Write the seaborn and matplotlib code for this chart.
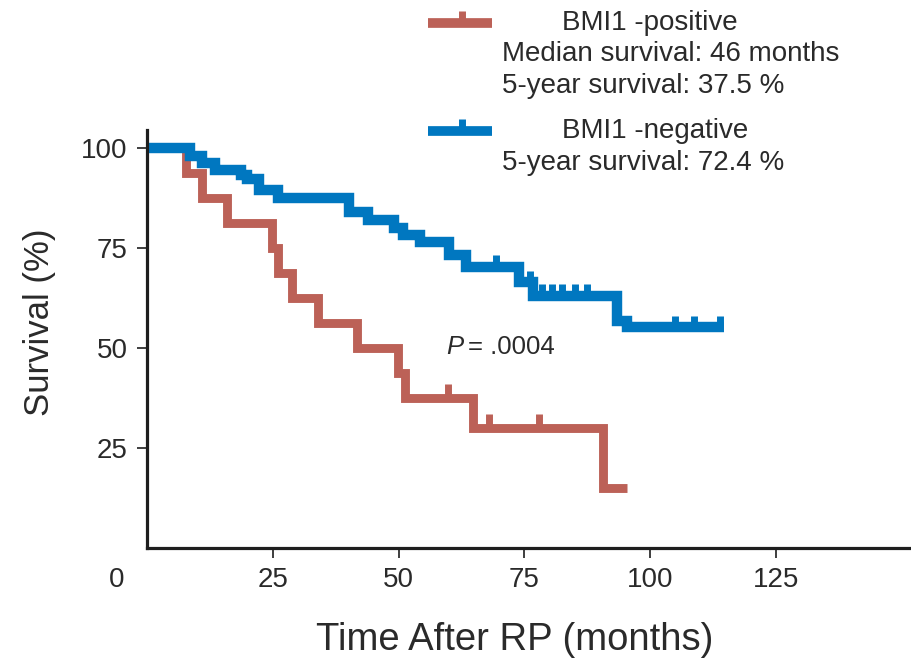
import numpy as np
import pandas as pd
import matplotlib
matplotlib.use("Agg")
import matplotlib.pyplot as plt
import matplotlib.transforms as mtransforms
from matplotlib.lines import Line2D
import seaborn as sns

# ---------------- data ----------------
red_time = [0, 7.8, 10.9, 15.9, 24.8, 26.0, 28.8, 33.9, 41.7, 49.9, 51.2, 64.8, 90.7, 95.4]
red_surv = [100, 93.75, 87.5, 81.25, 75.0, 68.75, 62.5, 56.25, 50.0, 43.75, 37.5, 30.0, 15.0, 15.0]
red_cens_time = [59.9, 68.0, 77.8]
red_cens_surv = [37.5, 30.0, 30.0]

blue_time = [0, 8.5, 10.9, 13.5, 18.6, 19.8, 22.2, 26.0, 40.2, 43.9, 49.0, 50.8, 54.2,
             60.0, 63.4, 74.0, 76.6, 93.3, 95.4, 114.7]
blue_surv = [100, 98.0, 96.2, 94.5, 93.2, 92.3, 89.6, 87.4, 84.0, 82.0, 80.0, 78.3, 76.6,
             73.3, 70.3, 66.4, 63.0, 56.8, 55.2, 55.2]
blue_cens_time = [69.4, 76.0, 78.5, 80.5, 82.5, 85.0, 87.5, 105.0, 108.7, 113.9]
blue_cens_surv = [70.3, 66.4, 63.0, 63.0, 63.0, 63.0, 63.0, 55.2, 55.2, 55.2]

x_ticks = [25, 50, 75, 100, 125]
y_ticks = [25, 50, 75, 100]

legend_pos = ["BMI1 -positive", "Median survival: 46 months", "5-year survival: 37.5 %"]
legend_neg = ["BMI1 -negative", "5-year survival: 72.4 %"]
p_text = ("P", "= .0004")

RED = "#BC6157"
BLUE = "#0077C0"
TXT = "#2a2a2a"

# ---------------- figure ----------------
sns.set_theme(style="white")
plt.rcParams["font.family"] = ["Liberation Sans", "DejaVu Sans"]

W, H = 911, 663
fig = plt.figure(figsize=(W / 100, H / 100), dpi=100)
fig.patch.set_facecolor("white")
ax = fig.add_axes([147 / W, 1 - 548 / H, 1 - 147 / W, 418 / H])
ax.set_facecolor("white")

red_df = pd.DataFrame({"t": red_time, "s": red_surv})
blue_df = pd.DataFrame({"t": blue_time, "s": blue_surv})

sns.lineplot(data=red_df, x="t", y="s", ax=ax, drawstyle="steps-post", color=RED,
             lw=6.4, estimator=None, sort=False, solid_joinstyle="miter",
             solid_capstyle="butt")
ax.vlines(red_cens_time, red_cens_surv, np.array(red_cens_surv) + 3.4, color=RED, lw=5)

sns.lineplot(data=blue_df, x="t", y="s", ax=ax, drawstyle="steps-post", color=BLUE,
             lw=7.5, estimator=None, sort=False, solid_joinstyle="miter",
             solid_capstyle="butt")
ax.vlines(blue_cens_time, blue_cens_surv, np.array(blue_cens_surv) + 2.9, color=BLUE, lw=5)

ax.set_xlim(0, 151.8)
ax.set_ylim(0, 104.5)
ax.set_xticks(x_ticks)
ax.set_yticks(y_ticks)
ax.set_xticklabels([str(v) for v in x_ticks])
ax.set_yticklabels([str(v) for v in y_ticks])

for s in ["top", "right"]:
    ax.spines[s].set_visible(False)
for s in ["left", "bottom"]:
    ax.spines[s].set_linewidth(2.3)
    ax.spines[s].set_color("#1e1e1e")
ax.tick_params(direction="out", length=7, width=1.2, color="#1e1e1e",
               labelsize=20, labelcolor=TXT, pad=7)
ax.tick_params(axis="both", which="both", bottom=True, left=True)

# origin label drawn offset to the left as in the reference
ax.text(-5.96, -0.077, "0", transform=mtransforms.blended_transform_factory(ax.transData, ax.transAxes),
        ha="center", va="center", fontsize=20, color=TXT, clip_on=False)

ax.set_xlabel("Time After RP (months)", fontsize=27.5, color=TXT)
ax.xaxis.label.set_va("center")
ax.xaxis.set_label_coords((515 - 147) / 764, (548 - 640) / 418)
ax.set_ylabel("Survival (%)", fontsize=25, color=TXT)
ax.yaxis.label.set_va("center")
ax.yaxis.set_label_coords((40 - 147) / 764, (548 - 322) / 418)

# P value
ax.text(59.5, 50.2, p_text[0], style="italic", fontsize=18.5, color=TXT, va="center", ha="left")
ax.annotate(p_text[1], xy=(59.5, 50.2), xytext=(15.5, 0), textcoords="offset points",
            fontsize=18.5, color=TXT, va="center", ha="left")

# legend drawn in figure space
def fx(px):
    return px / W

def fy(py):
    return 1 - py / H

for ycen, col in [(23, RED), (131, BLUE)]:
    fig.add_artist(Line2D([fx(428), fx(492)], [fy(ycen), fy(ycen)], color=col, lw=7,
                          solid_capstyle="butt", transform=fig.transFigure))
    fig.add_artist(Line2D([fx(462), fx(462)], [fy(ycen), fy(ycen - 12)], color=col, lw=5,
                          solid_capstyle="butt", transform=fig.transFigure))

fs_leg = 20
fig.text(fx(562), fy(23), legend_pos[0], fontsize=fs_leg, color=TXT, va="center", ha="left")
fig.text(fx(502), fy(54), legend_pos[1], fontsize=fs_leg, color=TXT, va="center", ha="left")
fig.text(fx(502), fy(86), legend_pos[2], fontsize=fs_leg, color=TXT, va="center", ha="left")
fig.text(fx(562), fy(131), legend_neg[0], fontsize=fs_leg, color=TXT, va="center", ha="left")
fig.text(fx(502), fy(163), legend_neg[1], fontsize=fs_leg, color=TXT, va="center", ha="left")

fig.savefig("out.png", dpi=100, facecolor="white")
